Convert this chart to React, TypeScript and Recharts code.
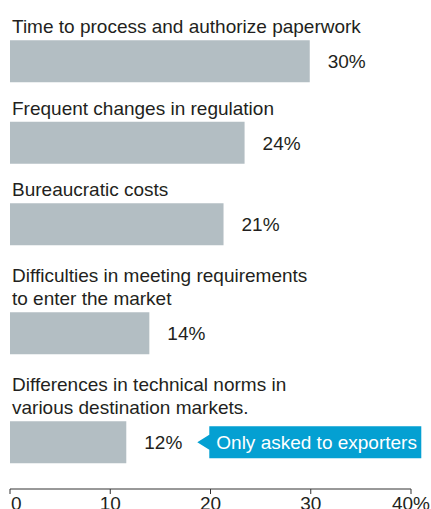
import { Bar, BarChart, LabelList, XAxis, YAxis } from "recharts"

const categories = [
  "Time to process and authorize paperwork",
  "Frequent changes in regulation",
  "Bureaucratic costs",
  "Difficulties in meeting requirements\nto enter the market",
  "Differences in technical norms in\nvarious destination markets.",
]
const values = [29.9, 23.4, 21.3, 13.9, 11.6]
const valueLabels = ["30%", "24%", "21%", "14%", "12%"]
const notes = ["", "", "", "", "Only asked to exporters"]
const xTicks = [0, 10, 20, 30, 40]
const xTickLabels = ["0", "10", "20", "30", "40%"]

const W = 431
const H = 509
const AXIS_H = 20
const PLOT_H = H - AXIS_H
const FONT = "'Liberation Sans', Arial, Helvetica, sans-serif"
const TEXT = "#231f20"
const BAR = "#b3bec3"
const BLUE = "#04a0d2"

// rows get taller when their label wraps onto two lines
let cursor = -20.5
const data = categories.map((name, i) => {
  const lines = name.split("\n").length
  cursor += 54 + lines * 27.5
  return { name, value: values[i], label: valueLabels[i], note: notes[i], pos: cursor }
})

function CategoryLabel(props: any) {
  const { x, y, value } = props
  const lines = String(value).split("\n")
  return (
    <text fontFamily={FONT} fontSize={19} fill={TEXT}>
      {lines.map((ln, k) => (
        <tspan key={k} x={x + 2} y={y - 7 - (lines.length - 1 - k) * 23}>
          {ln}
        </tspan>
      ))}
    </text>
  )
}

function ValueLabel(props: any) {
  const { x, y, width, height, index } = props
  const row = data[index]
  const end = x + width
  const cy = y + height / 2
  const tip = end + 71
  return (
    <g>
      <text x={end + 18} y={cy + 7} fontFamily={FONT} fontSize={19} fill={TEXT}>
        {row.label}
      </text>
      {row.note ? (
        <g>
          <path
            d={`M${tip},${cy} L${tip + 12},${cy - 7.5} L${tip + 12},${cy - 16} L${tip + 224},${cy - 16} L${tip + 224},${cy + 16} L${tip + 12},${cy + 16} L${tip + 12},${cy + 7.5} Z`}
            fill={BLUE}
          />
          <text x={tip + 19} y={cy + 7} fontFamily={FONT} fontSize={19} fill="#fff">
            {row.note}
          </text>
        </g>
      ) : null}
    </g>
  )
}

function AxisTick(props: any) {
  const { x, y, payload, index } = props
  return (
    <text
      x={index === 0 ? x + 1 : x}
      y={y + 14}
      textAnchor={index === 0 ? "start" : "middle"}
      fontFamily={FONT}
      fontSize={19}
      fill={TEXT}
    >
      {xTickLabels[xTicks.indexOf(payload.value)]}
    </text>
  )
}

export default function App() {
  return (
    <div style={{ position: "absolute", left: 0, top: 0, width: W, height: H, background: "#fff" }}>
      <BarChart
        width={W}
        height={H}
        data={data}
        layout="vertical"
        margin={{ top: 0, right: 20, bottom: 0, left: 10 }}
      >
        <XAxis
          type="number"
          domain={[0, 40]}
          ticks={xTicks}
          height={AXIS_H}
          axisLine={{ stroke: "#333", strokeWidth: 1 }}
          tickLine={{ stroke: "#333", strokeWidth: 1 }}
          tickSize={5}
          tick={<AxisTick />}
          interval={0}
        />
        <YAxis
          type="number"
          dataKey="pos"
          domain={[0, PLOT_H]}
          ticks={data.map((d) => d.pos)}
          hide
        />
        <Bar dataKey="value" fill={BAR} barSize={42} isAnimationActive={false}>
          <LabelList dataKey="name" content={<CategoryLabel />} />
          <LabelList dataKey="label" content={<ValueLabel />} />
        </Bar>
      </BarChart>
    </div>
  )
}
